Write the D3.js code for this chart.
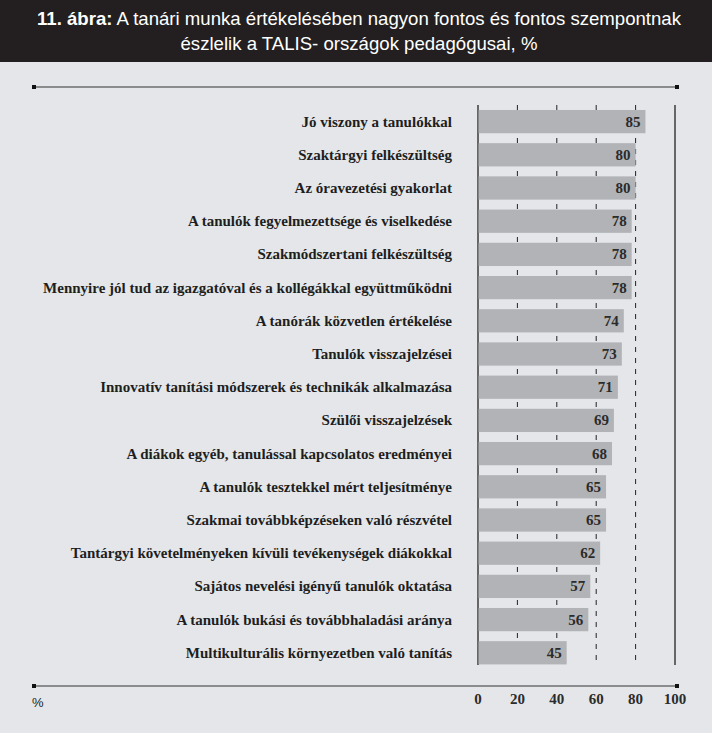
<!DOCTYPE html>
<html>
<head>
<meta charset="utf-8">
<script src="https://cdn.jsdelivr.net/npm/d3@7"></script>
<style>
  body { margin: 0; background: #e4e6e9; }
  svg { display: block; }
</style>
</head>
<body>
<svg id="chartSvg" width="712" height="733"></svg>
<script>
// Data
const categories = [
    "Jó viszony a tanulókkal",
    "Szaktárgyi felkészültség",
    "Az óravezetési gyakorlat",
    "A tanulók fegyelmezettsége és viselkedése",
    "Szakmódszertani felkészültség",
    "Mennyire jól tud az igazgatóval és a kollégákkal együttműködni",
    "A tanórák közvetlen értékelése",
    "Tanulók visszajelzései",
    "Innovatív tanítási módszerek és technikák alkalmazása",
    "Szülői visszajelzések",
    "A diákok egyéb, tanulással kapcsolatos eredményei",
    "A tanulók tesztekkel mért teljesítménye",
    "Szakmai továbbképzéseken való részvétel",
    "Tantárgyi követelményeken kívüli tevékenységek diákokkal",
    "Sajátos nevelési igényű tanulók oktatása",
    "A tanulók bukási és továbbhaladási aránya",
    "Multikulturális környezetben való tanítás"
];
const values = [85, 80, 80, 78, 78, 78, 74, 73, 71, 69, 68, 65, 65, 62, 57, 56, 45];
const tickValues = [0, 20, 40, 60, 80, 100];

const svg = d3.select("#chartSvg");
const width = +svg.attr("width");
const serif = "'Liberation Serif', 'DejaVu Serif', serif";

// Header
svg.append("rect")
    .attr("x", 0).attr("y", 0)
    .attr("width", width).attr("height", 62)
    .attr("fill", "#231f20");

const t1 = svg.append("text")
    .attr("x", width / 2 + 3).attr("y", 25)
    .attr("text-anchor", "middle")
    .attr("fill", "#ffffff")
    .attr("font-family", "'Liberation Sans', sans-serif")
    .attr("font-size", 18.6);
t1.append("tspan").attr("font-weight", "bold").text("11. ábra:");
t1.append("tspan").text(" A tanári munka értékelésében nagyon fontos és fontos szempontnak");

svg.append("text")
    .attr("x", width / 2 + 3).attr("y", 50)
    .attr("text-anchor", "middle")
    .attr("fill", "#ffffff")
    .attr("font-family", "'Liberation Sans', sans-serif")
    .attr("font-size", 18.6)
    .text("észlelik a TALIS- országok pedagógusai, %");

// Scales
const x = d3.scaleLinear().domain([0, 100]).range([478, 675]);
const y = d3.scaleBand()
    .domain(categories)
    .range([105, 105 + 33.2 * categories.length])
    .paddingInner(0.3)
    .paddingOuter(0.15);

const plotTop = 105, plotBottom = 665;

// Top and bottom rules with small square ends
[87, 686].forEach(ly => {
    svg.append("line")
        .attr("x1", 34).attr("x2", 677)
        .attr("y1", ly).attr("y2", ly)
        .attr("stroke", "#333").attr("stroke-width", 1.2);
    [34, 677].forEach(lx => {
        svg.append("rect")
            .attr("x", lx - 2).attr("y", ly - 2)
            .attr("width", 4).attr("height", 4)
            .attr("fill", "#111");
    });
});

// Grid lines
svg.selectAll(".grid")
    .data(tickValues)
    .enter()
    .append("line")
    .attr("x1", d => x(d)).attr("x2", d => x(d))
    .attr("y1", plotTop).attr("y2", plotBottom)
    .attr("stroke", "#222")
    .attr("stroke-width", d => (d === 0 || d === 100) ? 1.3 : 1)
    .attr("stroke-dasharray", d => (d === 0 || d === 100) ? null : "5,6");

// Bars
svg.selectAll(".bar")
    .data(values)
    .enter()
    .append("rect")
    .attr("x", x(0) + 0.6)
    .attr("y", (d, i) => y(categories[i]))
    .attr("width", d => x(d) - x(0) - 0.6)
    .attr("height", y.bandwidth())
    .attr("fill", "#b1b3b6");

// Value labels
svg.selectAll(".val")
    .data(values)
    .enter()
    .append("text")
    .attr("x", d => x(d) - 5)
    .attr("y", (d, i) => y(categories[i]) + y.bandwidth() / 2 + 5)
    .attr("text-anchor", "end")
    .attr("font-family", serif)
    .attr("font-weight", "bold")
    .attr("font-size", 15)
    .attr("fill", "#2b2b2b")
    .text(d => d);

// Category labels
svg.selectAll(".cat")
    .data(categories)
    .enter()
    .append("text")
    .attr("x", 452)
    .attr("y", d => y(d) + y.bandwidth() / 2 + 5)
    .attr("text-anchor", "end")
    .attr("font-family", serif)
    .attr("font-weight", "bold")
    .attr("font-size", 15)
    .attr("fill", "#1e1e1e")
    .text(d => d);

// X axis tick labels
svg.selectAll(".tick-label")
    .data(tickValues)
    .enter()
    .append("text")
    .attr("x", d => x(d))
    .attr("y", 704)
    .attr("text-anchor", "middle")
    .attr("font-family", serif)
    .attr("font-weight", "bold")
    .attr("font-size", 15)
    .attr("fill", "#2b2b2b")
    .text(d => d);

svg.append("text")
    .attr("x", 32).attr("y", 707)
    .attr("font-family", "'Liberation Sans', sans-serif")
    .attr("font-size", 13)
    .attr("fill", "#222")
    .text("%");
</script>
</body>
</html>
